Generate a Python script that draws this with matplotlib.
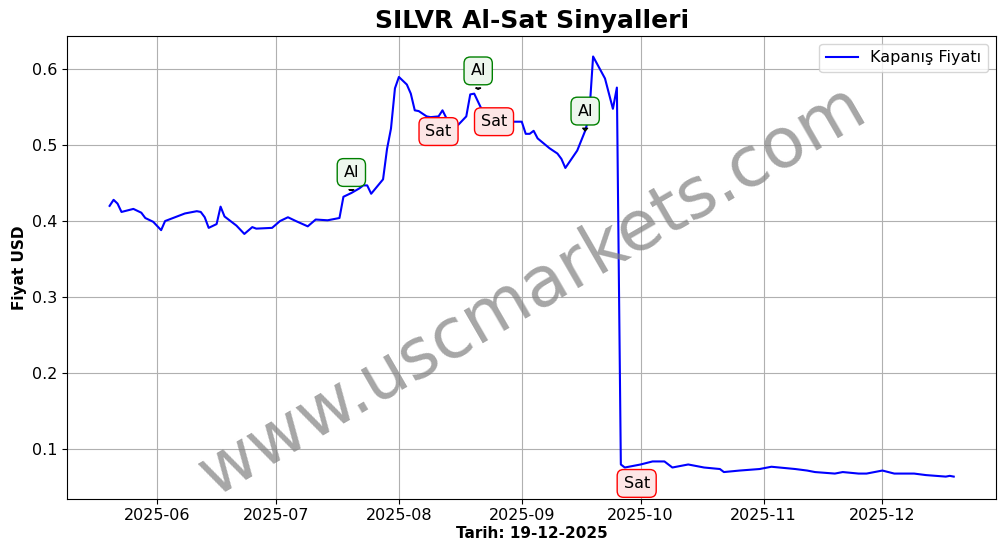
import matplotlib
matplotlib.use("Agg")
import matplotlib.pyplot as plt
import matplotlib.dates as mdates
import pandas as pd

dates = ["2025-05-20","2025-05-21","2025-05-22","2025-05-23","2025-05-26","2025-05-28","2025-05-29","2025-05-31",
"2025-06-02","2025-06-03","2025-06-05","2025-06-08","2025-06-11","2025-06-12","2025-06-13","2025-06-14","2025-06-16",
"2025-06-17","2025-06-18","2025-06-21","2025-06-23","2025-06-25","2025-06-26","2025-06-30","2025-07-02","2025-07-04",
"2025-07-06","2025-07-09","2025-07-11","2025-07-14","2025-07-17","2025-07-18","2025-07-20","2025-07-22","2025-07-23",
"2025-07-24","2025-07-25","2025-07-28","2025-07-29","2025-07-30","2025-07-31","2025-08-01","2025-08-03","2025-08-04",
"2025-08-05","2025-08-06","2025-08-08","2025-08-09","2025-08-11","2025-08-12","2025-08-14","2025-08-16","2025-08-18",
"2025-08-19","2025-08-20","2025-08-22","2025-08-24","2025-08-27","2025-08-30","2025-09-01","2025-09-02","2025-09-03",
"2025-09-04","2025-09-05","2025-09-08","2025-09-10","2025-09-11","2025-09-12","2025-09-15","2025-09-17","2025-09-18",
"2025-09-19","2025-09-22","2025-09-24","2025-09-25","2025-09-26","2025-09-27","2025-10-01","2025-10-04","2025-10-07",
"2025-10-09","2025-10-13","2025-10-15","2025-10-17","2025-10-21","2025-10-22","2025-10-26","2025-10-31","2025-11-03",
"2025-11-05","2025-11-09","2025-11-12","2025-11-14","2025-11-19","2025-11-21","2025-11-25","2025-11-27","2025-12-01",
"2025-12-04","2025-12-09","2025-12-12","2025-12-17","2025-12-18","2025-12-19"]
prices = [0.420,0.428,0.423,0.412,0.416,0.411,0.404,0.399,
0.388,0.400,0.404,0.410,0.413,0.412,0.405,0.391,0.396,
0.419,0.406,0.394,0.383,0.392,0.390,0.391,0.400,0.405,
0.400,0.393,0.402,0.401,0.404,0.432,0.437,0.443,0.447,
0.447,0.436,0.455,0.495,0.522,0.575,0.590,0.580,0.568,
0.546,0.545,0.538,0.537,0.538,0.546,0.525,0.527,0.538,
0.567,0.568,0.546,0.535,0.531,0.531,0.531,0.515,0.515,
0.519,0.509,0.496,0.489,0.482,0.470,0.493,0.519,0.538,
0.617,0.588,0.548,0.576,0.079,0.075,0.079,0.083,0.083,
0.075,0.079,0.077,0.075,0.073,0.069,0.071,0.073,0.076,
0.075,0.073,0.071,0.069,0.067,0.069,0.067,0.067,0.071,
0.067,0.067,0.065,0.063,0.064,0.063]

buy_dates = ["2025-07-20","2025-08-21","2025-09-17"]
buy_prices = [0.437,0.570,0.519]
buy_label_y = [0.464,0.598,0.545]
sell_dates = ["2025-08-11","2025-08-25","2025-09-30"]
sell_label_y = [0.518,0.531,0.054]

x = pd.to_datetime(dates)
fig, ax = plt.subplots(figsize=(10.06, 5.54), dpi=100)
ax.plot(x, prices, color="blue", label="Kapanış Fiyatı")
for d, p, ly in zip(buy_dates, buy_prices, buy_label_y):
    ax.annotate("Al", xy=(pd.Timestamp(d), p), xytext=(pd.Timestamp(d), ly),
                ha="center", va="center", fontsize=11.5,
                bbox=dict(boxstyle="round,pad=0.4", fc="#eef7ee", ec="green"),
                arrowprops=dict(arrowstyle="wedge", fc="green", ec="black"))
for d, ly in zip(sell_dates, sell_label_y):
    ax.annotate("Sat", xy=(pd.Timestamp(d), ly), ha="center", va="center", fontsize=11.5,
                bbox=dict(boxstyle="round,pad=0.4", fc="#fde6e6", ec="red"))
ax.text(0.5, 0.45, "www.uscmarkets.com", transform=ax.transAxes, fontsize=50,
        color="gray", alpha=0.7, rotation=30, ha="center", va="center")
ax.set_title("SILVR Al-Sat Sinyalleri", fontsize=18, fontweight="bold")
ax.set_xlabel("Tarih: 19-12-2025", fontsize=11, fontweight="bold", labelpad=2)
ax.set_ylabel("Fiyat USD", fontsize=11, fontweight="bold")
ax.xaxis.set_major_locator(mdates.MonthLocator())
ax.xaxis.set_major_formatter(mdates.DateFormatter("%Y-%m"))
ax.tick_params(labelsize=11.5)
ax.grid(True)
ax.legend(loc="upper right", fontsize=11.5)
ax.set_ylim(0.034, 0.644)
fig.subplots_adjust(left=0.067, right=0.99, top=0.935, bottom=0.1)
fig.savefig("out.png")
